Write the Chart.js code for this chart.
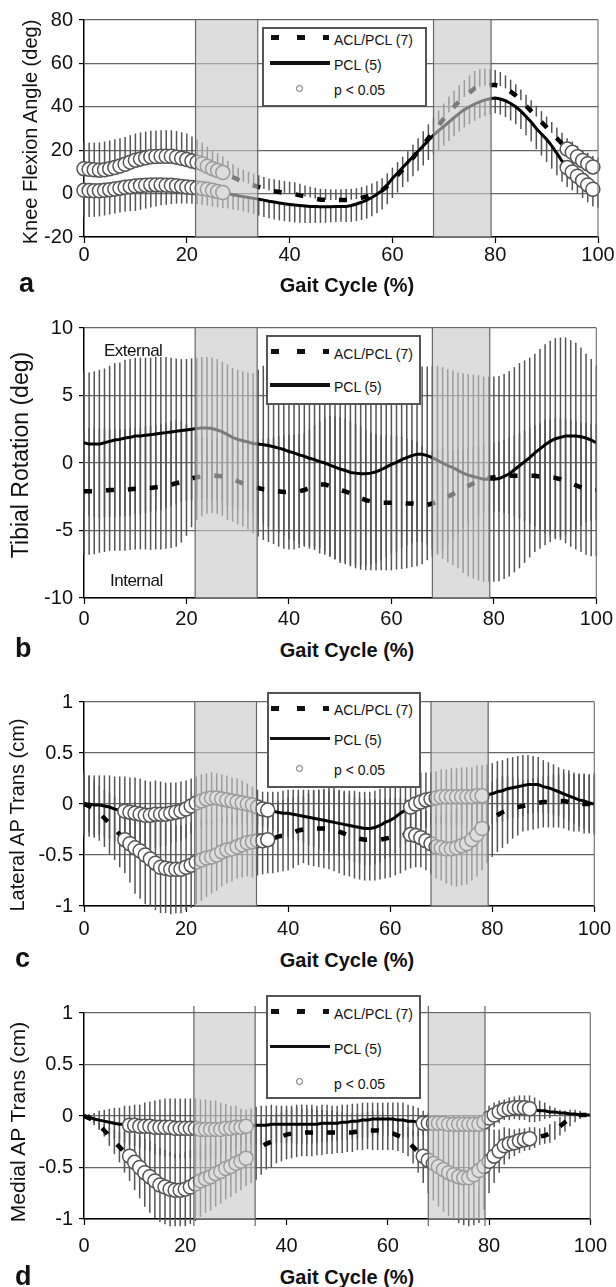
<!DOCTYPE html>
<html>
<head>
<meta charset="utf-8">
<script src="https://cdn.jsdelivr.net/npm/chart.js@4.4.1/dist/chart.umd.min.js"></script>
<style>
  body { margin: 0; background: #fff; }
  #page { position: relative; width: 616px; height: 1287px; overflow: hidden;
          font-family: "Liberation Sans", Arial, sans-serif; color: #111; }
  canvas { position: absolute; left: 0; }
  .ytitle { position: absolute; white-space: nowrap; line-height: 1; transform: translate(-50%, -50%) rotate(-90deg); }
  .xtitle { position: absolute; font-weight: bold; font-size: 20px; line-height: 20px; white-space: nowrap; transform: translateX(-50%); }
  .letter { position: absolute; font-weight: bold; font-size: 27px; line-height: 27px; }
  .note { position: absolute; font-size: 17px; line-height: 17px; letter-spacing: -0.5px; }
  .legend { position: absolute; background: #fff; border: 2px solid #555; box-sizing: border-box; }
  .ltext { position: absolute; font-size: 14px; line-height: 14px; white-space: nowrap; }
  .lmark { position: absolute; background: #111; }
  .ldot { position: absolute; width: 7px; height: 7px; border-radius: 50%; border: 1.5px solid #666; box-sizing: border-box; background: #fff; }
</style>
</head>
<body>
<div id="page"></div>
<script>
// x categories and ticks
const gaitPct = Array.from({ length: 101 }, (_, i) => i);
const gaitTicks = [0, 20, 40, 60, 80, 100];
const stanceBands = [[21.7, 33.8], [68.0, 79.2]];
const kneeTicks = [-20, 0, 20, 40, 60, 80];
const tibTicks = [-10, -5, 0, 5, 10];
const transTicks = [-1, -0.5, 0, 0.5, 1];
const seriesLabels = ['ACL/PCL (7)', 'PCL (5)', 'p < 0.05'];

// a - knee flexion
const kneeAcl = [
  11.5, 11.2, 11.0, 10.8, 11.0, 11.5, 12.0, 12.7, 13.5, 14.5,
  15.4, 16.0, 16.5, 17.0, 17.1, 17.2, 17.2, 17.2, 16.8, 16.3,
  15.7, 15.0, 14.4, 13.8, 12.6, 11.5, 10.6, 9.7, 8.6, 7.5,
  6.4, 5.4, 4.6, 3.8, 3.0, 2.2, 1.5, 1.1, 0.7, 0.3,
  0.0, -0.3, -0.8, -1.3, -1.8, -2.3, -2.8, -2.9, -3.0, -3.0,
  -3.0, -2.9, -2.8, -2.5, -2.0, -1.3, -0.5, 0.3, 1.5, 3.5,
  6.0, 8.5, 11.0, 13.5, 16.5, 19.5, 22.5, 25.5, 28.5, 31.5,
  34.5, 37.5, 40.0, 42.5, 44.5, 46.5, 48.5, 49.3, 49.8, 50.0,
  50.0, 49.5, 48.5, 47.0, 45.2, 43.0, 40.5, 38.0, 35.5, 33.0,
  30.5, 28.0, 25.5, 23.0, 20.5, 19.0, 17.0, 15.2, 13.8, 12.3,
  11.5];
const kneePcl = [
  1.5, 1.4, 1.3, 1.3, 1.5, 1.8, 2.1, 2.5, 2.9, 3.2,
  3.5, 3.7, 3.9, 4.0, 4.0, 4.0, 3.9, 3.8, 3.6, 3.3,
  3.0, 2.8, 2.6, 2.4, 2.0, 1.5, 1.0, 0.5, 0.0, -0.5,
  -1.0, -1.4, -1.8, -2.2, -2.6, -3.0, -3.5, -3.9, -4.3, -4.7,
  -5.0, -5.3, -5.5, -5.7, -5.9, -6.0, -6.1, -6.1, -6.1, -6.0,
  -6.0, -5.9, -5.5, -4.8, -4.0, -3.0, -1.8, -0.3, 1.5, 4.0,
  7.0, 9.5, 12.0, 14.5, 17.0, 19.5, 22.0, 24.5, 27.0, 29.0,
  31.0, 33.0, 35.0, 37.0, 38.7, 40.0, 41.3, 42.3, 43.2, 43.7,
  44.0, 43.6, 42.8, 41.5, 40.0, 38.0, 35.5, 33.0, 30.0, 27.5,
  25.0, 22.0, 18.5, 15.0, 12.0, 10.0, 8.0, 6.0, 4.0, 2.0,
  1.5];
const kneeAclSd = [
  12.0, 12.2, 12.5, 12.8, 13.0, 13.0, 13.0, 12.8, 12.6, 12.4,
  12.3, 12.2, 12.1, 12.0, 12.0, 12.0, 12.0, 12.0, 12.0, 12.0,
  12.0, 11.3, 10.5, 9.8, 9.0, 8.5, 8.0, 7.5, 6.5, 6.0,
  5.5, 5.5, 5.5, 5.5, 5.5, 5.5, 5.5, 5.5, 5.5, 5.5,
  5.5, 5.5, 5.3, 5.0, 5.0, 5.0, 5.0, 5.0, 5.0, 5.0,
  5.0, 5.0, 5.0, 5.0, 5.0, 5.0, 5.2, 5.4, 5.6, 5.8,
  6.0, 6.0, 6.0, 6.0, 6.0, 6.0, 6.2, 6.4, 6.6, 6.8,
  7.0, 7.2, 7.4, 7.6, 7.8, 8.0, 8.0, 8.0, 7.8, 7.5,
  7.0, 6.5, 6.0, 5.5, 5.2, 5.0, 5.0, 5.0, 5.0, 5.0,
  5.0, 5.0, 5.0, 5.0, 5.0, 5.0, 5.0, 5.0, 5.0, 5.0,
  5.0];
const kneePclSd = [
  12.3, 12.2, 12.0, 11.8, 11.6, 11.4, 11.3, 11.2, 11.2, 11.3,
  11.5, 11.2, 10.8, 10.4, 9.9, 9.4, 9.0, 8.6, 8.2, 7.9,
  7.6, 7.5, 7.5, 7.5, 7.5, 7.5, 7.3, 7.1, 6.9, 6.8,
  6.7, 6.8, 7.0, 7.2, 7.5, 7.8, 7.9, 8.0, 8.0, 8.0,
  8.0, 8.0, 7.9, 7.8, 7.6, 7.5, 7.4, 7.3, 7.2, 7.1,
  7.0, 7.2, 7.5, 7.8, 8.2, 8.5, 8.6, 8.7, 8.8, 8.9,
  9.0, 9.0, 9.0, 9.0, 9.0, 9.0, 9.0, 9.0, 9.0, 9.0,
  9.0, 8.8, 8.6, 8.4, 8.2, 8.0, 7.8, 7.6, 7.4, 7.2,
  7.0, 7.2, 7.5, 7.8, 8.0, 8.2, 8.6, 9.0, 9.5, 10.0,
  10.5, 10.5, 10.0, 9.5, 9.0, 8.5, 8.2, 8.0, 8.0, 8.0,
  8.0];
const kneeSig = [[0, 27], [94, 99]];

// b - tibial rotation
const tibAcl = [
  -2.1, -2.1, -2.1, -2.05, -2.05, -2.0, -2.0, -2.0, -2.0, -1.95,
  -1.9, -1.9, -1.85, -1.85, -1.8, -1.75, -1.7, -1.6, -1.5, -1.4,
  -1.25, -1.15, -1.05, -1.0, -0.95, -0.95, -0.95, -1.0, -1.1, -1.2,
  -1.35, -1.5, -1.6, -1.75, -1.85, -1.95, -2.0, -2.05, -2.1, -2.15,
  -2.15, -2.15, -2.1, -2.0, -1.85, -1.7, -1.6, -1.6, -1.7, -1.85,
  -2.0, -2.1, -2.25, -2.45, -2.6, -2.75, -2.85, -2.9, -2.95, -2.95,
  -2.95, -2.95, -2.95, -3.0, -3.0, -3.05, -3.1, -3.1, -3.0, -2.85,
  -2.7, -2.5, -2.3, -2.1, -1.9, -1.7, -1.5, -1.35, -1.2, -1.1,
  -1.05, -1.0, -1.0, -0.95, -0.95, -0.95, -0.95, -0.95, -0.95, -1.0,
  -1.0, -1.05, -1.1, -1.2, -1.35, -1.5, -1.65, -1.8, -1.9, -2.0,
  -2.0];
const tibPcl = [
  1.5, 1.4, 1.4, 1.4, 1.5, 1.6, 1.7, 1.75, 1.85, 1.9,
  2.0, 2.0, 2.05, 2.1, 2.15, 2.2, 2.25, 2.3, 2.35, 2.4,
  2.45, 2.5, 2.55, 2.6, 2.6, 2.55, 2.45, 2.3, 2.1, 1.9,
  1.75, 1.65, 1.55, 1.45, 1.4, 1.35, 1.3, 1.2, 1.1, 1.0,
  0.85, 0.75, 0.6, 0.5, 0.35, 0.25, 0.1, 0.0, -0.15, -0.3,
  -0.45, -0.55, -0.7, -0.75, -0.8, -0.8, -0.75, -0.65, -0.5, -0.3,
  -0.1, 0.05, 0.25, 0.4, 0.55, 0.65, 0.65, 0.55, 0.4, 0.2,
  0.0, -0.2, -0.35, -0.55, -0.75, -0.9, -1.0, -1.1, -1.2, -1.2,
  -1.2, -1.15, -1.0, -0.8, -0.5, -0.2, 0.1, 0.4, 0.75, 1.05,
  1.35, 1.6, 1.8, 1.9, 2.0, 2.0, 2.0, 1.95, 1.85, 1.7,
  1.5];
const tibAclSd = [
  4.7, 4.7, 4.65, 4.6, 4.55, 4.5, 4.5, 4.5, 4.5, 4.5,
  4.5, 4.5, 4.55, 4.6, 4.6, 4.65, 4.65, 4.7, 4.7, 4.5,
  4.15, 3.6, 3.15, 2.95, 2.8, 2.75, 2.8, 2.9, 3.1, 3.15,
  3.2, 3.2, 3.3, 3.45, 3.6, 3.75, 3.85, 3.95, 4.1, 4.2,
  4.25, 4.25, 4.2, 4.2, 4.3, 4.5, 4.7, 4.95, 5.2, 5.3,
  5.4, 5.4, 5.4, 5.35, 5.3, 5.2, 5.1, 5.05, 5.0, 5.0,
  5.0, 4.95, 4.9, 4.8, 4.7, 4.6, 4.4, 4.1, 3.95, 3.8,
  3.7, 3.5, 3.3, 3.1, 2.95, 2.8, 2.7, 2.6, 2.5, 2.5,
  2.55, 2.6, 2.7, 2.85, 3.0, 3.15, 3.35, 3.55, 3.75, 3.95,
  4.2, 4.3, 4.4, 4.5, 4.6, 4.7, 4.75, 4.8, 4.9, 4.9,
  4.9];
const tibPclSd = [
  5.3, 5.3, 5.4, 5.5, 5.5, 5.6, 5.7, 5.7, 5.8, 5.8,
  5.8, 5.8, 5.75, 5.7, 5.7, 5.65, 5.6, 5.5, 5.4, 5.3,
  5.25, 5.25, 5.25, 5.25, 5.25, 5.25, 5.25, 5.2, 5.2, 5.15,
  5.15, 5.15, 5.15, 5.2, 5.5, 5.85, 6.0, 6.2, 6.3, 6.4,
  6.5, 6.5, 6.6, 6.6, 6.7, 6.7, 6.8, 6.8, 6.8, 6.8,
  6.8, 6.8, 6.8, 6.8, 6.8, 6.8, 6.8, 6.8, 6.7, 6.7,
  6.6, 6.6, 6.5, 6.5, 6.5, 6.5, 6.5, 6.6, 6.8, 7.0,
  7.1, 7.15, 7.2, 7.25, 7.4, 7.5, 7.55, 7.6, 7.6, 7.6,
  7.6, 7.6, 7.6, 7.6, 7.6, 7.6, 7.5, 7.4, 7.35, 7.4,
  7.45, 7.45, 7.45, 7.4, 7.3, 7.1, 6.9, 6.6, 6.25, 6.0,
  5.7];
const tibSig = [];

// c - lateral AP translation
const latAcl = [
  0.0, -0.02, -0.05, -0.09, -0.14, -0.19, -0.24, -0.3, -0.35, -0.39,
  -0.43, -0.46, -0.5, -0.54, -0.58, -0.62, -0.63, -0.64, -0.64, -0.64,
  -0.62, -0.6, -0.57, -0.55, -0.53, -0.52, -0.5, -0.47, -0.45, -0.44,
  -0.42, -0.4, -0.38, -0.37, -0.36, -0.36, -0.35, -0.34, -0.32, -0.31,
  -0.29, -0.28, -0.26, -0.25, -0.25, -0.24, -0.24, -0.24, -0.24, -0.25,
  -0.27, -0.29, -0.31, -0.33, -0.34, -0.35, -0.35, -0.35, -0.35, -0.34,
  -0.33, -0.32, -0.31, -0.3, -0.3, -0.31, -0.33, -0.36, -0.39, -0.42,
  -0.43, -0.44, -0.44, -0.43, -0.41, -0.39, -0.35, -0.3, -0.24, -0.19,
  -0.15, -0.11, -0.08, -0.06, -0.04, -0.03, -0.02, -0.01, 0.0, 0.01,
  0.02, 0.02, 0.03, 0.03, 0.03, 0.02, 0.01, 0.01, 0.0, 0.0,
  0.0];
const latPcl = [
  0.0, 0.0, -0.01, -0.01, -0.02, -0.03, -0.05, -0.06, -0.07, -0.08,
  -0.09, -0.1, -0.11, -0.11, -0.1, -0.1, -0.1, -0.09, -0.08, -0.07,
  -0.05, -0.02, 0.01, 0.03, 0.05, 0.06, 0.06, 0.05, 0.04, 0.03,
  0.02, 0.01, 0.0, -0.01, -0.03, -0.05, -0.06, -0.07, -0.08, -0.09,
  -0.09, -0.1, -0.11, -0.12, -0.13, -0.14, -0.15, -0.16, -0.17, -0.18,
  -0.19, -0.2, -0.21, -0.22, -0.23, -0.24, -0.24, -0.23, -0.21, -0.18,
  -0.16, -0.13, -0.09, -0.06, -0.03, 0.0, 0.02, 0.04, 0.05, 0.06,
  0.07, 0.07, 0.07, 0.07, 0.07, 0.07, 0.07, 0.08, 0.08, 0.09,
  0.1, 0.12, 0.13, 0.15, 0.16, 0.17, 0.18, 0.19, 0.19, 0.19,
  0.17, 0.16, 0.14, 0.12, 0.1, 0.08, 0.06, 0.04, 0.03, 0.01,
  0.0];
const latAclSd = [
  0.32, 0.3, 0.28, 0.27, 0.28, 0.3, 0.31, 0.32, 0.33, 0.38,
  0.45, 0.47, 0.48, 0.47, 0.46, 0.45, 0.44, 0.44, 0.43, 0.43,
  0.42, 0.42, 0.41, 0.4, 0.38, 0.36, 0.35, 0.34, 0.33, 0.32,
  0.31, 0.32, 0.33, 0.35, 0.34, 0.33, 0.33, 0.34, 0.35, 0.35,
  0.36, 0.35, 0.34, 0.33, 0.35, 0.37, 0.38, 0.39, 0.4, 0.41,
  0.41, 0.41, 0.4, 0.4, 0.4, 0.4, 0.4, 0.4, 0.39, 0.39,
  0.39, 0.38, 0.37, 0.35, 0.33, 0.31, 0.29, 0.29, 0.3, 0.31,
  0.32, 0.34, 0.36, 0.38, 0.39, 0.4, 0.4, 0.41, 0.41, 0.39,
  0.37, 0.36, 0.35, 0.33, 0.3, 0.28, 0.25, 0.25, 0.25, 0.25,
  0.25, 0.25, 0.26, 0.26, 0.27, 0.28, 0.28, 0.28, 0.29, 0.29,
  0.29];
const latPclSd = [
  0.28, 0.28, 0.29, 0.29, 0.3, 0.31, 0.32, 0.33, 0.34, 0.34,
  0.35, 0.35, 0.34, 0.33, 0.33, 0.32, 0.31, 0.3, 0.29, 0.29,
  0.28, 0.27, 0.26, 0.26, 0.25, 0.25, 0.24, 0.24, 0.24, 0.23,
  0.23, 0.22, 0.2, 0.18, 0.17, 0.17, 0.18, 0.19, 0.2, 0.22,
  0.23, 0.24, 0.25, 0.26, 0.27, 0.28, 0.29, 0.3, 0.3, 0.31,
  0.32, 0.33, 0.34, 0.35, 0.35, 0.36, 0.36, 0.36, 0.36, 0.36,
  0.36, 0.35, 0.34, 0.33, 0.32, 0.31, 0.29, 0.27, 0.26, 0.26,
  0.27, 0.27, 0.28, 0.28, 0.29, 0.29, 0.29, 0.3, 0.3, 0.3,
  0.3, 0.3, 0.3, 0.3, 0.3, 0.3, 0.3, 0.29, 0.28, 0.27,
  0.26, 0.25, 0.25, 0.24, 0.24, 0.25, 0.25, 0.26, 0.27, 0.28,
  0.3];
const latSig = [[8, 36], [64, 78]];

// d - medial AP translation
const medAcl = [
  0.0, -0.02, -0.05, -0.09, -0.14, -0.2, -0.25, -0.3, -0.35, -0.39,
  -0.45, -0.5, -0.55, -0.59, -0.63, -0.67, -0.69, -0.71, -0.72, -0.72,
  -0.71, -0.69, -0.66, -0.63, -0.61, -0.59, -0.56, -0.54, -0.51, -0.49,
  -0.46, -0.44, -0.41, -0.37, -0.33, -0.3, -0.27, -0.25, -0.22, -0.2,
  -0.18, -0.17, -0.16, -0.16, -0.16, -0.16, -0.16, -0.16, -0.16, -0.16,
  -0.16, -0.16, -0.16, -0.16, -0.15, -0.15, -0.14, -0.14, -0.14, -0.15,
  -0.16, -0.17, -0.19, -0.21, -0.25, -0.3, -0.35, -0.39, -0.43, -0.46,
  -0.49, -0.52, -0.55, -0.57, -0.59, -0.6, -0.6, -0.57, -0.53, -0.49,
  -0.44, -0.39, -0.34, -0.29, -0.27, -0.26, -0.24, -0.23, -0.22, -0.21,
  -0.2, -0.19, -0.17, -0.14, -0.1, -0.06, -0.02, 0.0, 0.01, 0.01,
  0.01];
const medPcl = [
  0.0, -0.01, -0.03, -0.04, -0.05, -0.06, -0.07, -0.08, -0.08, -0.09,
  -0.09, -0.1, -0.1, -0.1, -0.11, -0.11, -0.11, -0.11, -0.12, -0.12,
  -0.12, -0.12, -0.12, -0.13, -0.13, -0.13, -0.13, -0.13, -0.12, -0.12,
  -0.11, -0.11, -0.1, -0.1, -0.09, -0.09, -0.09, -0.08, -0.08, -0.08,
  -0.08, -0.08, -0.08, -0.08, -0.08, -0.08, -0.08, -0.07, -0.07, -0.07,
  -0.07, -0.06, -0.06, -0.05, -0.05, -0.04, -0.04, -0.03, -0.03, -0.03,
  -0.03, -0.03, -0.04, -0.04, -0.05, -0.05, -0.06, -0.07, -0.07, -0.07,
  -0.07, -0.07, -0.08, -0.08, -0.08, -0.08, -0.08, -0.08, -0.08, -0.06,
  -0.02, 0.01, 0.04, 0.06, 0.07, 0.08, 0.08, 0.08, 0.07, 0.06,
  0.05, 0.05, 0.04, 0.04, 0.03, 0.03, 0.02, 0.02, 0.01, 0.01,
  0.01];
const medAclSd = [
  0.0, 0.01, 0.02, 0.04, 0.06, 0.09, 0.12, 0.15, 0.2, 0.24,
  0.27, 0.3, 0.33, 0.35, 0.36, 0.36, 0.36, 0.36, 0.35, 0.35,
  0.36, 0.36, 0.36, 0.35, 0.33, 0.33, 0.32, 0.31, 0.3, 0.3,
  0.29, 0.28, 0.27, 0.28, 0.29, 0.27, 0.25, 0.25, 0.24, 0.24,
  0.24, 0.24, 0.24, 0.23, 0.23, 0.23, 0.22, 0.22, 0.21, 0.21,
  0.2, 0.2, 0.19, 0.19, 0.18, 0.18, 0.18, 0.19, 0.19, 0.18,
  0.17, 0.16, 0.15, 0.15, 0.14, 0.16, 0.2, 0.26, 0.32, 0.36,
  0.39, 0.41, 0.42, 0.44, 0.45, 0.46, 0.47, 0.49, 0.51, 0.42,
  0.31, 0.26, 0.21, 0.18, 0.15, 0.13, 0.12, 0.11, 0.11, 0.1,
  0.08, 0.08, 0.09, 0.09, 0.09, 0.09, 0.08, 0.06, 0.04, 0.02,
  0.0];
const medPclSd = [
  0.0, 0.03, 0.06, 0.09, 0.11, 0.13, 0.15, 0.16, 0.18, 0.19,
  0.2, 0.21, 0.23, 0.24, 0.26, 0.27, 0.28, 0.28, 0.29, 0.29,
  0.29, 0.29, 0.29, 0.29, 0.29, 0.28, 0.28, 0.26, 0.24, 0.22,
  0.21, 0.18, 0.16, 0.17, 0.18, 0.19, 0.19, 0.19, 0.18, 0.18,
  0.18, 0.18, 0.19, 0.19, 0.19, 0.19, 0.18, 0.18, 0.18, 0.17,
  0.17, 0.17, 0.17, 0.17, 0.17, 0.17, 0.17, 0.16, 0.16, 0.16,
  0.16, 0.16, 0.17, 0.17, 0.16, 0.15, 0.14, 0.12, 0.1, 0.08,
  0.07, 0.07, 0.07, 0.08, 0.08, 0.08, 0.08, 0.08, 0.08, 0.1,
  0.12, 0.12, 0.11, 0.1, 0.11, 0.11, 0.12, 0.12, 0.13, 0.12,
  0.1, 0.08, 0.06, 0.04, 0.03, 0.02, 0.01, 0.01, 0.01, 0.0,
  0.0];
const medSig = [[9, 32], [67, 88]];

const page = document.getElementById('page');
Chart.defaults.font.family = '"Liberation Sans", Arial, sans-serif';
Chart.defaults.color = '#111';

// error bars drawn under the lines, one vertical stroke per gait point
const errorBars = {
  id: 'errorBars',
  beforeDatasetsDraw(chart, args, opts) {
    const { ctx } = chart;
    const xs = chart.scales.x, ys = chart.scales.y;
    ctx.save();
    ctx.strokeStyle = '#555';
    ctx.lineWidth = 1.5;
    opts.series.forEach(s => {
      gaitPct.forEach((x, i) => {
        const m = s.mean[i], sd = s.sd[i];
        const hi = s.mode === 'down' ? m : m + sd;
        const lo = s.mode === 'up' ? m : m - sd;
        const px = xs.getPixelForValue(x);
        ctx.beginPath();
        ctx.moveTo(px, ys.getPixelForValue(hi));
        ctx.lineTo(px, ys.getPixelForValue(lo));
        ctx.stroke();
      });
    });
    ctx.restore();
  }
};

// translucent stance bands on top of the data, plus the right frame line
const bands = {
  id: 'bands',
  afterDatasetsDraw(chart, args, opts) {
    const { ctx, chartArea: a } = chart;
    const xs = chart.scales.x;
    ctx.save();
    stanceBands.forEach(([x0, x1]) => {
      const p0 = xs.getPixelForValue(x0), p1 = xs.getPixelForValue(x1);
      ctx.fillStyle = 'rgba(200,200,200,0.62)';
      ctx.fillRect(p0, a.top, p1 - p0, a.bottom - a.top);
      ctx.strokeStyle = '#666';
      ctx.lineWidth = 1.2;
      [p0, p1].forEach(px => {
        ctx.beginPath();
        ctx.moveTo(px, a.top - opts.overhang);
        ctx.lineTo(px, a.bottom + opts.overhang);
        ctx.stroke();
      });
    });
    ctx.strokeStyle = '#777';
    ctx.lineWidth = 1.2;
    ctx.beginPath();
    ctx.moveTo(a.right, a.top);
    ctx.lineTo(a.right, a.bottom);
    ctx.stroke();
    ctx.restore();
  }
};

const panels = [
  { acl: kneeAcl, pcl: kneePcl, aclSd: kneeAclSd, pclSd: kneePclSd, sig: kneeSig, ticks: kneeTicks,
    aclMode: 'up', pclMode: 'down', top: 0, height: 277, xPad: 0, overhang: 0,
    yTitle: 'Knee Flexion Angle (deg)', yTitleSize: 20, yTitleX: 30, yTitleY: 132,
    letter: 'a', letterX: 19, letterY: 270, xTitleY: 275,
    legend: { left: 262, top: 27, width: 165, height: 80, rows: [37.5, 63, 88] } },
  { acl: tibAcl, pcl: tibPcl, aclSd: tibAclSd, pclSd: tibPclSd, sig: tibSig, ticks: tibTicks,
    aclMode: 'both', pclMode: 'both', top: 308, height: 330, xPad: 3, overhang: 0,
    yTitle: 'Tibial Rotation (deg)', yTitleSize: 23, yTitleX: 20, yTitleY: 455,
    letter: 'b', letterX: 15, letterY: 635, xTitleY: 640,
    legend: { left: 266, top: 335, width: 155, height: 70, rows: [351.7, 385] } },
  { acl: latAcl, pcl: latPcl, aclSd: latAclSd, pclSd: latPclSd, sig: latSig, ticks: transTicks,
    aclMode: 'both', pclMode: 'both', top: 682, height: 264, xPad: 5, overhang: 0,
    yTitle: 'Lateral AP Trans (cm)', yTitleSize: 20, yTitleX: 17, yTitleY: 815,
    letter: 'c', letterX: 15, letterY: 945, xTitleY: 950,
    legend: { left: 267, top: 692, width: 154, height: 96, rows: [708.3, 738.3, 768.3] } },
  { acl: medAcl, pcl: medPcl, aclSd: medAclSd, pclSd: medPclSd, sig: medSig, ticks: transTicks,
    aclMode: 'both', pclMode: 'both', top: 993, height: 266, xPad: 9, overhang: 7,
    yTitle: 'Medial AP Trans (cm)', yTitleSize: 21, yTitleX: 17, yTitleY: 1122,
    letter: 'd', letterX: 15, letterY: 1263, xTitleY: 1267,
    legend: { left: 266, top: 995, width: 155, height: 104, rows: [1011.7, 1046.7, 1081.7] } }
];

function addDiv(cls, text, style) {
  const d = document.createElement('div');
  d.className = cls;
  if (text) d.textContent = text;
  Object.assign(d.style, style);
  page.appendChild(d);
  return d;
}

function makeChart(p) {
  const canvas = document.createElement('canvas');
  canvas.width = 616;
  canvas.height = p.height;
  canvas.style.top = p.top + 'px';
  page.appendChild(canvas);

  const aclPts = gaitPct.map((x, i) => ({ x, y: p.acl[i] }));
  const pclPts = gaitPct.map((x, i) => ({ x, y: p.pcl[i] }));
  const sigPts = [];
  p.sig.forEach(([from, to]) => {
    for (let i = from; i <= to; i++) sigPts.push({ x: gaitPct[i], y: p.acl[i] });
    for (let i = from; i <= to; i++) sigPts.push({ x: gaitPct[i], y: p.pcl[i] });
  });

  new Chart(canvas, {
    type: 'line',
    data: {
      datasets: [
        { label: seriesLabels[2], data: sigPts, showLine: false, pointRadius: 7,
          pointBackgroundColor: '#fff', pointBorderColor: '#555', pointBorderWidth: 1.5,
          order: 0, clip: false },
        { label: seriesLabels[1], data: pclPts, borderColor: '#000', borderWidth: 3,
          pointRadius: 0, order: 1, clip: false },
        { label: seriesLabels[0], data: aclPts, borderColor: '#000', borderWidth: 4.5,
          borderDash: [8, 14], borderCapStyle: 'butt', pointRadius: 0, order: 2, clip: false }
      ]
    },
    options: {
      responsive: false,
      devicePixelRatio: 1,
      animation: false,
      events: [],
      layout: { padding: { top: 20, right: 18, left: 0, bottom: 0 } },
      plugins: {
        legend: { display: false },
        tooltip: { enabled: false },
        errorBars: { series: [
          { mean: p.acl, sd: p.aclSd, mode: p.aclMode },
          { mean: p.pcl, sd: p.pclSd, mode: p.pclMode }
        ] },
        bands: { overhang: p.overhang }
      },
      scales: {
        x: {
          type: 'linear', min: 0, max: 100,
          afterBuildTicks: s => { s.ticks = gaitTicks.map(v => ({ value: v })); },
          ticks: { color: '#111', font: { size: 20 }, padding: p.xPad, maxRotation: 0, autoSkip: false },
          grid: { drawOnChartArea: false, drawTicks: true, tickLength: 6, tickColor: '#000', tickWidth: 1.2 },
          border: { color: '#000', width: 1.5 },
          afterFit: s => { s.height = 40; }
        },
        y: {
          min: p.ticks[0], max: p.ticks[p.ticks.length - 1],
          afterBuildTicks: s => { s.ticks = p.ticks.map(v => ({ value: v })); },
          ticks: { color: '#111', font: { size: 20 }, padding: 6, autoSkip: false, callback: v => String(v) },
          grid: { color: '#666', lineWidth: 1.2, tickLength: 5, tickColor: '#000' },
          border: { color: '#000', width: 1.5 },
          afterFit: s => { s.width = 84; }
        }
      }
    },
    plugins: [errorBars, bands]
  });
}

function makeText(p) {
  addDiv('ytitle', p.yTitle, { left: p.yTitleX + 'px', top: p.yTitleY + 'px', fontSize: p.yTitleSize + 'px' });
  addDiv('xtitle', 'Gait Cycle (%)', { left: '347px', top: p.xTitleY + 'px' });
  addDiv('letter', p.letter, { left: p.letterX + 'px', top: p.letterY + 'px' });

  const L = p.legend;
  addDiv('legend', '', { left: L.left + 'px', top: L.top + 'px', width: L.width + 'px', height: L.height + 'px' });
  const r0 = L.rows[0];
  [[275, 8], [300.5, 8], [325.5, 6]].forEach(([cx, w]) => {
    addDiv('lmark', '', { left: (cx - w / 2) + 'px', top: (r0 - 2.5) + 'px', width: w + 'px', height: '5px' });
  });
  addDiv('ltext', seriesLabels[0], { left: '334px', top: (r0 - 5) + 'px' });
  const r1 = L.rows[1];
  addDiv('lmark', '', { left: '270px', top: (r1 - 1.75) + 'px', width: '60px', height: '3.5px' });
  addDiv('ltext', seriesLabels[1], { left: '334px', top: (r1 - 5) + 'px' });
  if (L.rows.length > 2) {
    const r2 = L.rows[2];
    addDiv('ldot', '', { left: '295.5px', top: (r2 - 3.5) + 'px' });
    addDiv('ltext', seriesLabels[2], { left: '334px', top: (r2 - 5) + 'px' });
  }
}

panels.forEach(makeChart);
panels.forEach(makeText);
addDiv('note', 'External', { left: '104px', top: '342px' });
addDiv('note', 'Internal', { left: '110px', top: '572px' });
</script>
</body>
</html>
